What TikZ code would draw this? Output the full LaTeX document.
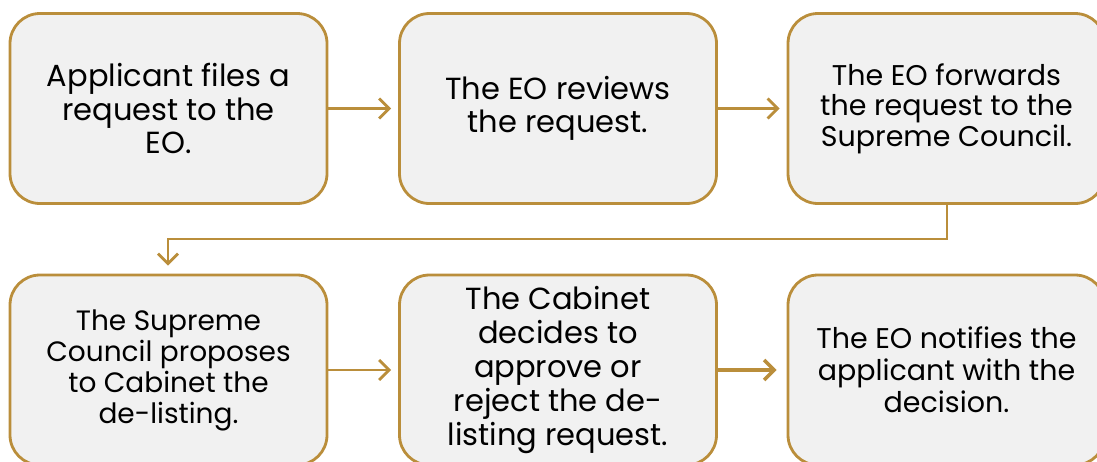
\documentclass[tikz,border=0pt]{standalone}
\usepackage{fontspec}
\setmainfont{Poppins}
\usetikzlibrary{arrows.meta}
\definecolor{gold}{HTML}{BA8E3B}
\definecolor{boxfill}{HTML}{F1F1F1}
\tikzset{
  stepbox/.style={draw=gold, fill=boxfill, line width=2.8pt, rounded corners=30pt,
    minimum width=317pt, minimum height=190pt, align=center, inner sep=0pt, text=black},
  flow/.style={draw=gold, line width=2.8pt, -{Straight Barb[length=10pt,width=20pt,line width=2.8pt]}, shorten >=7pt},
}
\begin{document}
\begin{tikzpicture}[x=1pt,y=-1pt]
\useasboundingbox (0,0) rectangle (1097,461);
\clip (0,0) rectangle (1097,461);
\node[stepbox, font=\fontsize{30.5}{33.5}\selectfont] (b1) at (168.5,108.5) {Applicant files a\\request to the\\EO.};
\node[stepbox, font=\fontsize{30.5}{33.5}\selectfont] (b2) at (558,108.5) {The EO reviews\\the request.};
\node[stepbox, font=\fontsize{28.5}{30.5}\selectfont] (b3) at (946.5,108.5) {The EO forwards\\the request to the\\Supreme Council.};
\node[stepbox, font=\fontsize{28}{31}\selectfont] (b4) at (168.5,370) {The Supreme\\Council proposes\\to Cabinet the\\de-listing.};
\node[stepbox, font=\fontsize{30.5}{34}\selectfont] (b5) at (558,370) {The Cabinet\\decides to\\approve or\\reject the de-\\listing request.};
\node[stepbox, font=\fontsize{28.5}{32}\selectfont] (b6) at (946.5,370) {The EO notifies the\\applicant with the\\decision.};
\coordinate (t1) at (947,239);
\coordinate (t2) at (168,239);
\draw[flow] (b1.east) -- (b2.west);
\draw[flow] (b2.east) -- (b3.west);
\draw[flow, shorten >=8pt] (b3.south -| t1) -- (t1) -- (t2) -- (b4.north -| t2);
\draw[flow] (b4.east) -- (b5.west);
\draw[flow, line width=3.8pt, -{Straight Barb[length=10pt,width=20pt,line width=3.6pt]}, shorten >=10pt] (b5.east) -- (b6.west);
\end{tikzpicture}
\end{document}
